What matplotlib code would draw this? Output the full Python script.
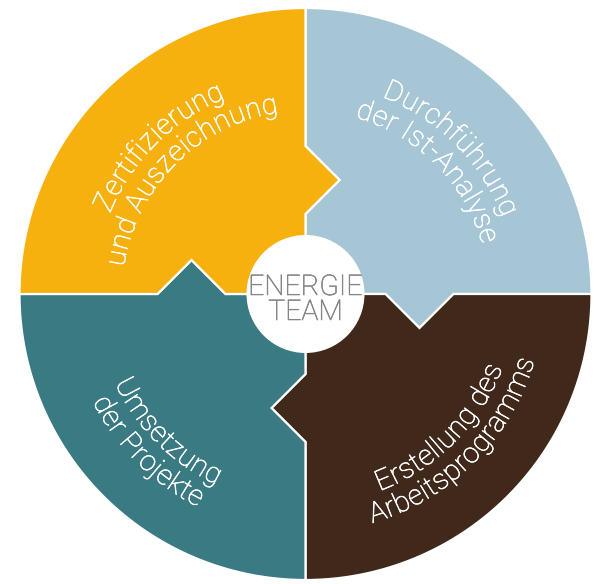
import numpy as np
import matplotlib
matplotlib.use("Agg")
import matplotlib.pyplot as plt
import matplotlib.patheffects as pe
from matplotlib.patches import Polygon, Circle
from matplotlib.font_manager import FontProperties, findfont, get_font

# segments in clockwise order, starting at 12 o'clock
labels = [["Durchführung", "der Ist-Analyse"],
          ["Erstellung des", "Arbeitsprogramms"],
          ["Umsetzung", "der Projekte"],
          ["Zertifizierung", "und Auszeichnung"]]
shares = [1, 1, 1, 1]
center_label = ["ENERGIE", "TEAM"]
colors = ["#a6c6d5", "#40281a", "#3a7a82", "#f7b10f"]

DPI = 100
W, H = 602, 584
cx, cy = 305.5, 290.0
R = 286.0
r_hub = 59.0
r1, r2, h = 80.0, 148.0, 34.0      # arrow base start/end radius, arrow height
tracking = 0.5                      # extra px between letters


def u(t):
    return np.array([np.cos(t), np.sin(t)])


def p(t):
    # perpendicular, pointing clockwise
    return np.array([np.sin(t), -np.cos(t)])


def segment_poly(t_hi, t_lo):
    c = np.array([cx, cy])
    rm = (r1 + r2) / 2
    pts = [c, c + r1 * u(t_hi), c + rm * u(t_hi) + h * p(t_hi), c + r2 * u(t_hi)]
    for t in np.linspace(t_hi, t_lo, 120):
        pts.append(c + R * u(t))
    pts += [c + r2 * u(t_lo), c + rm * u(t_lo) + h * p(t_lo), c + r1 * u(t_lo)]
    return np.array(pts)


def arc_text(ax, s, r_mid, t_c, outward, prop, color):
    font = get_font(findfont(prop))
    font.set_size(prop.get_size_in_points(), DPI)
    adv = np.array([font.load_char(ord(ch)).linearHoriAdvance / 65536 for ch in s])
    adv = adv + tracking
    total = adv.sum() - tracking
    pos = np.cumsum(adv) - adv / 2 - tracking / 2 - total / 2
    em = prop.get_size_in_points() * DPI / 72
    xh = 0.53 * em
    if outward:
        rb = r_mid - xh / 2
    else:
        rb = r_mid + xh / 2
    for ch, d in zip(s, pos):
        if outward:
            t = t_c - d / rb
            rot = np.degrees(t) - 90
        else:
            t = t_c + d / rb
            rot = np.degrees(t) + 90
        ax.text(cx + rb * np.cos(t), cy + rb * np.sin(t), ch, rotation=rot,
                rotation_mode="anchor", ha="center", va="baseline",
                fontproperties=prop, color=color, zorder=5,
                path_effects=[pe.withStroke(linewidth=0.45, foreground=color)])


fig = plt.figure(figsize=(W / DPI, H / DPI), dpi=DPI)
ax = fig.add_axes([0, 0, 1, 1])
ax.set_xlim(0, W)
ax.set_ylim(0, H)
ax.axis("off")

seg_font = FontProperties(family="Roboto", weight="light", size=20.5)
hub_font = FontProperties(family="Roboto", weight="light", size=20.5)

total = sum(shares)
start = np.pi / 2
for lines, share, col in zip(labels, shares, colors):
    t_hi = start
    t_lo = start - 2 * np.pi * share / total
    start = t_lo
    ax.add_patch(Polygon(segment_poly(t_hi, t_lo), closed=True, fc=col,
                         ec="white", lw=1.6, joinstyle="miter", zorder=2))
    t_c = (t_hi + t_lo) / 2
    if np.sin(t_c) > 0:
        radii = [219, 191]
        outward = True
    else:
        radii = [203, 231]
        outward = False
    for s, r in zip(lines, radii):
        arc_text(ax, s, r, t_c, outward, seg_font, "white")

ax.add_patch(Circle((cx, cy), r_hub, fc="white", ec="none", zorder=3))
hub_fx = [pe.withStroke(linewidth=0.4, foreground="#858585")]
ax.text(cx, 289, center_label[0], ha="center", va="baseline",
        fontproperties=hub_font, color="#858585", zorder=6, path_effects=hub_fx)
ax.text(cx, 264, center_label[1], ha="center", va="baseline",
        fontproperties=hub_font, color="#858585", zorder=6, path_effects=hub_fx)

fig.savefig("out.png", dpi=DPI)
